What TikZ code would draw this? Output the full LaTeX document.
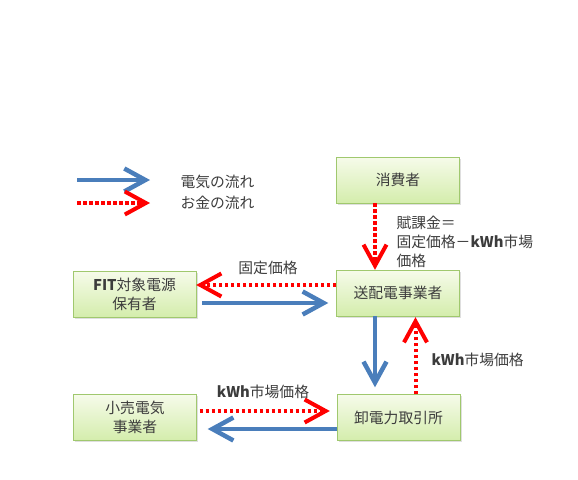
\documentclass[tikz,border=0pt]{standalone}
\usepackage{fontspec}
\setmainfont{Noto Sans CJK JP}
\usetikzlibrary{arrows.meta,positioning,shadows}
\definecolor{boxedge}{RGB}{160,200,110}
\definecolor{boxtop}{RGB}{246,251,234}
\definecolor{boxbot}{RGB}{212,237,172}
\definecolor{elecblue}{RGB}{74,126,187}
\definecolor{txtgray}{RGB}{60,60,60}
\begin{document}
\begin{tikzpicture}[x=1pt,y=-1pt,font=\fontsize{14.8}{19}\selectfont,text=txtgray,
    box/.style={draw=boxedge,top color=boxtop,bottom color=boxbot,
      minimum width=123pt,minimum height=46pt,align=center,inner sep=0pt,
      drop shadow={shadow xshift=1.5pt,shadow yshift=-1.5pt,fill=black!25}},
    elec/.style={draw=elecblue,line width=4.5pt,-{Straight Barb[length=21pt,width=23pt]}},
    money/.style={draw=red,line width=4pt,dash pattern=on 3.5pt off 2.5pt,
      -{Straight Barb[length=21pt,width=23pt]}}]
  \useasboundingbox (0,0) rectangle (578,479);
  % legend
  \coordinate (elecA) at (77,180);
  \coordinate (elecB) at (150,180);
  \coordinate (moneyA) at (77,203);
  \coordinate (moneyB) at (150,203);
  \draw[elec] (elecA) -- (elecB);
  \draw[money] (moneyA) -- (moneyB);
  \node[anchor=west] (elecleg) at (177,182) {電気の流れ};
  \node[anchor=west] (moneyleg) at (177,203) {お金の流れ};
  % boxes
  \node[box] (shohi) at (398,180) {消費者};
  \node[box] (souhai) at (398,293) {送配電事業者};
  \node[box] (oroshi) at (398.5,417.5) {卸電力取引所};
  \node[box] (fit) at (134.5,294) {\textbf{FIT}対象電源\\保有者};
  \node[box] (kouri) at (135,417.5) {小売電気\\事業者};
  % flows
  \draw[money] ([xshift=-23pt]shohi.south) -- ([xshift=-23pt]souhai.north);
  \draw[money] ([yshift=8pt]souhai.west) -- ([yshift=8pt]souhai.west -| fit.east);
  \draw[elec,shorten <=6pt,shorten >=8pt] ([yshift=-10pt]souhai.west -| fit.east) -- ([yshift=-10pt]souhai.west);
  \draw[elec,shorten >=7pt] ([xshift=-23pt]souhai.south) -- ([xshift=-23pt]souhai.south |- oroshi.north);
  \draw[money,shorten >=1pt] ([xshift=17pt]oroshi.north) -- ([xshift=17pt]oroshi.north |- souhai.south);
  \draw[money,shorten <=3pt,shorten >=7pt] ([yshift=6.5pt]oroshi.west -| kouri.east) -- ([yshift=6.5pt]oroshi.west);
  \draw[elec,shorten >=11pt] ([yshift=-11.5pt]oroshi.west) -- ([yshift=-11.5pt]oroshi.west -| kouri.east);
  % labels
  \node[anchor=west,align=left] (fuka) at (393,242) {賦課金＝\\固定価格－\textbf{kWh}市場\\価格};
  \node (kotei) at (268,268) {固定価格};
  \node[anchor=west] (kwhup) at (428,360) {\textbf{kWh}市場価格};
  \node (kwhlow) at (263,392) {\textbf{kWh}市場価格};
\end{tikzpicture}
\end{document}
